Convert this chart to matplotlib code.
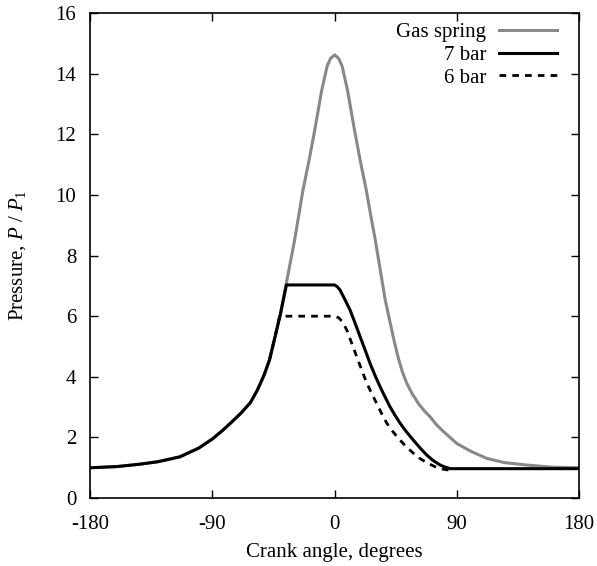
import numpy as np
import matplotlib.pyplot as plt

plt.rcParams['font.family'] = ['Liberation Serif', 'DejaVu Serif']
plt.rcParams['mathtext.fontset'] = 'custom'
plt.rcParams['mathtext.rm'] = 'Liberation Serif'
plt.rcParams['mathtext.it'] = 'Liberation Serif:italic'
plt.rcParams['axes.unicode_minus'] = False

# crank angle (deg) and pressure ratio P/P1
gas_angle = [-180, -160, -143, -130, -114, -100, -90, -82, -76, -69, -62, -57,
             -52, -48, -44.5, -40, -35.5, -29.5, -23.3, -19, -15, -9.5, -5.5,
             -3, 0, 3, 5.5, 9.5, 15, 19, 23.3, 26.5, 29.8, 33.5, 37.2, 40.8,
             44, 47, 50, 53, 57, 62, 66, 70.3, 75, 80, 85, 90, 100, 112, 125,
             141.5, 160, 180]
gas_p = [1.0, 1.04, 1.12, 1.2, 1.36, 1.65, 1.95, 2.25, 2.5, 2.8, 3.15, 3.55,
         4.05, 4.55, 5.2, 6.05, 7.1, 8.5, 10.16, 11.1, 12.05, 13.45, 14.25,
         14.5, 14.62, 14.5, 14.25, 13.45, 12.05, 11.1, 10.16, 9.35, 8.55, 7.55,
         6.55, 5.8, 5.15, 4.6, 4.15, 3.8, 3.45, 3.1, 2.88, 2.68, 2.42, 2.2,
         2.0, 1.8, 1.55, 1.31, 1.17, 1.09, 1.02, 1.0]

bar7_angle = [-180, -160, -143, -130, -114, -100, -90, -82, -76, -69, -62, -57,
              -52, -48, -44.5, -40, -35.5, 0, 2, 4, 7, 11.4, 15, 18.8, 22.5,
              26.1, 29.8, 33.5, 37.2, 40.8, 44.5, 48.2, 53, 58, 63, 67.8, 72.5,
              77.7, 81.5, 85, 180]
bar7_p = [1.0, 1.04, 1.12, 1.2, 1.36, 1.65, 1.95, 2.25, 2.5, 2.8, 3.15, 3.55,
          4.05, 4.55, 5.2, 6.05, 7.03, 7.03, 6.97, 6.86, 6.6, 6.2, 5.78, 5.32,
          4.88, 4.44, 4.04, 3.67, 3.33, 3.01, 2.73, 2.47, 2.18, 1.91, 1.65,
          1.42, 1.24, 1.09, 1.02, 0.97, 0.97]

bar6_angle = [-48, -44.5, -40.5, 0, 3, 6, 9, 12.5, 16.3, 20, 23.7, 27.3, 31,
              34.7, 38.4, 43.3, 48.2, 53, 58, 63, 67.8, 72.7, 77.7, 83, 88]
bar6_p = [4.55, 5.2, 6.0, 6.0, 5.95, 5.8, 5.54, 5.12, 4.66, 4.22, 3.79, 3.45,
          3.12, 2.78, 2.47, 2.17, 1.91, 1.68, 1.48, 1.3, 1.17, 1.06, 0.97,
          0.93, 0.95]

fig = plt.figure(figsize=(5.97, 5.66), dpi=100)
ax = fig.add_axes([0.151, 0.120, 0.819, 0.857])

ax.plot(gas_angle, gas_p, color='#888888', lw=2.2, label='Gas spring')
ax.plot(bar7_angle, bar7_p, color='black', lw=2.2, label='7 bar')
ax.plot(bar6_angle, bar6_p, color='black', lw=2.0, dashes=(2.4, 2.2), label='6 bar')

ax.set_xlim(-180, 180)
ax.set_ylim(0, 16)
ax.set_xticks([-180, -90, 0, 90, 180])
ax.set_yticks(np.arange(0, 17, 2))
ax.tick_params(direction='in', top=True, right=True, length=6, width=1,
               labelsize=15)
ax.tick_params(axis='x', pad=12)
ax.tick_params(axis='y', pad=10)
for s in ax.spines.values():
    s.set_linewidth(1.2)

ax.set_xlabel('Crank angle, degrees', fontsize=15, labelpad=7)
ax.set_ylabel('Pressure, $P$ / $P_1$', fontsize=15, labelpad=20)

ax.legend(loc='upper right', frameon=False, markerfirst=False, fontsize=15,
          handlelength=2.8, handletextpad=0.6, borderaxespad=0.3,
          labelspacing=0.15, bbox_to_anchor=(0.985, 1.01))

fig.savefig('out.png', dpi=100)
